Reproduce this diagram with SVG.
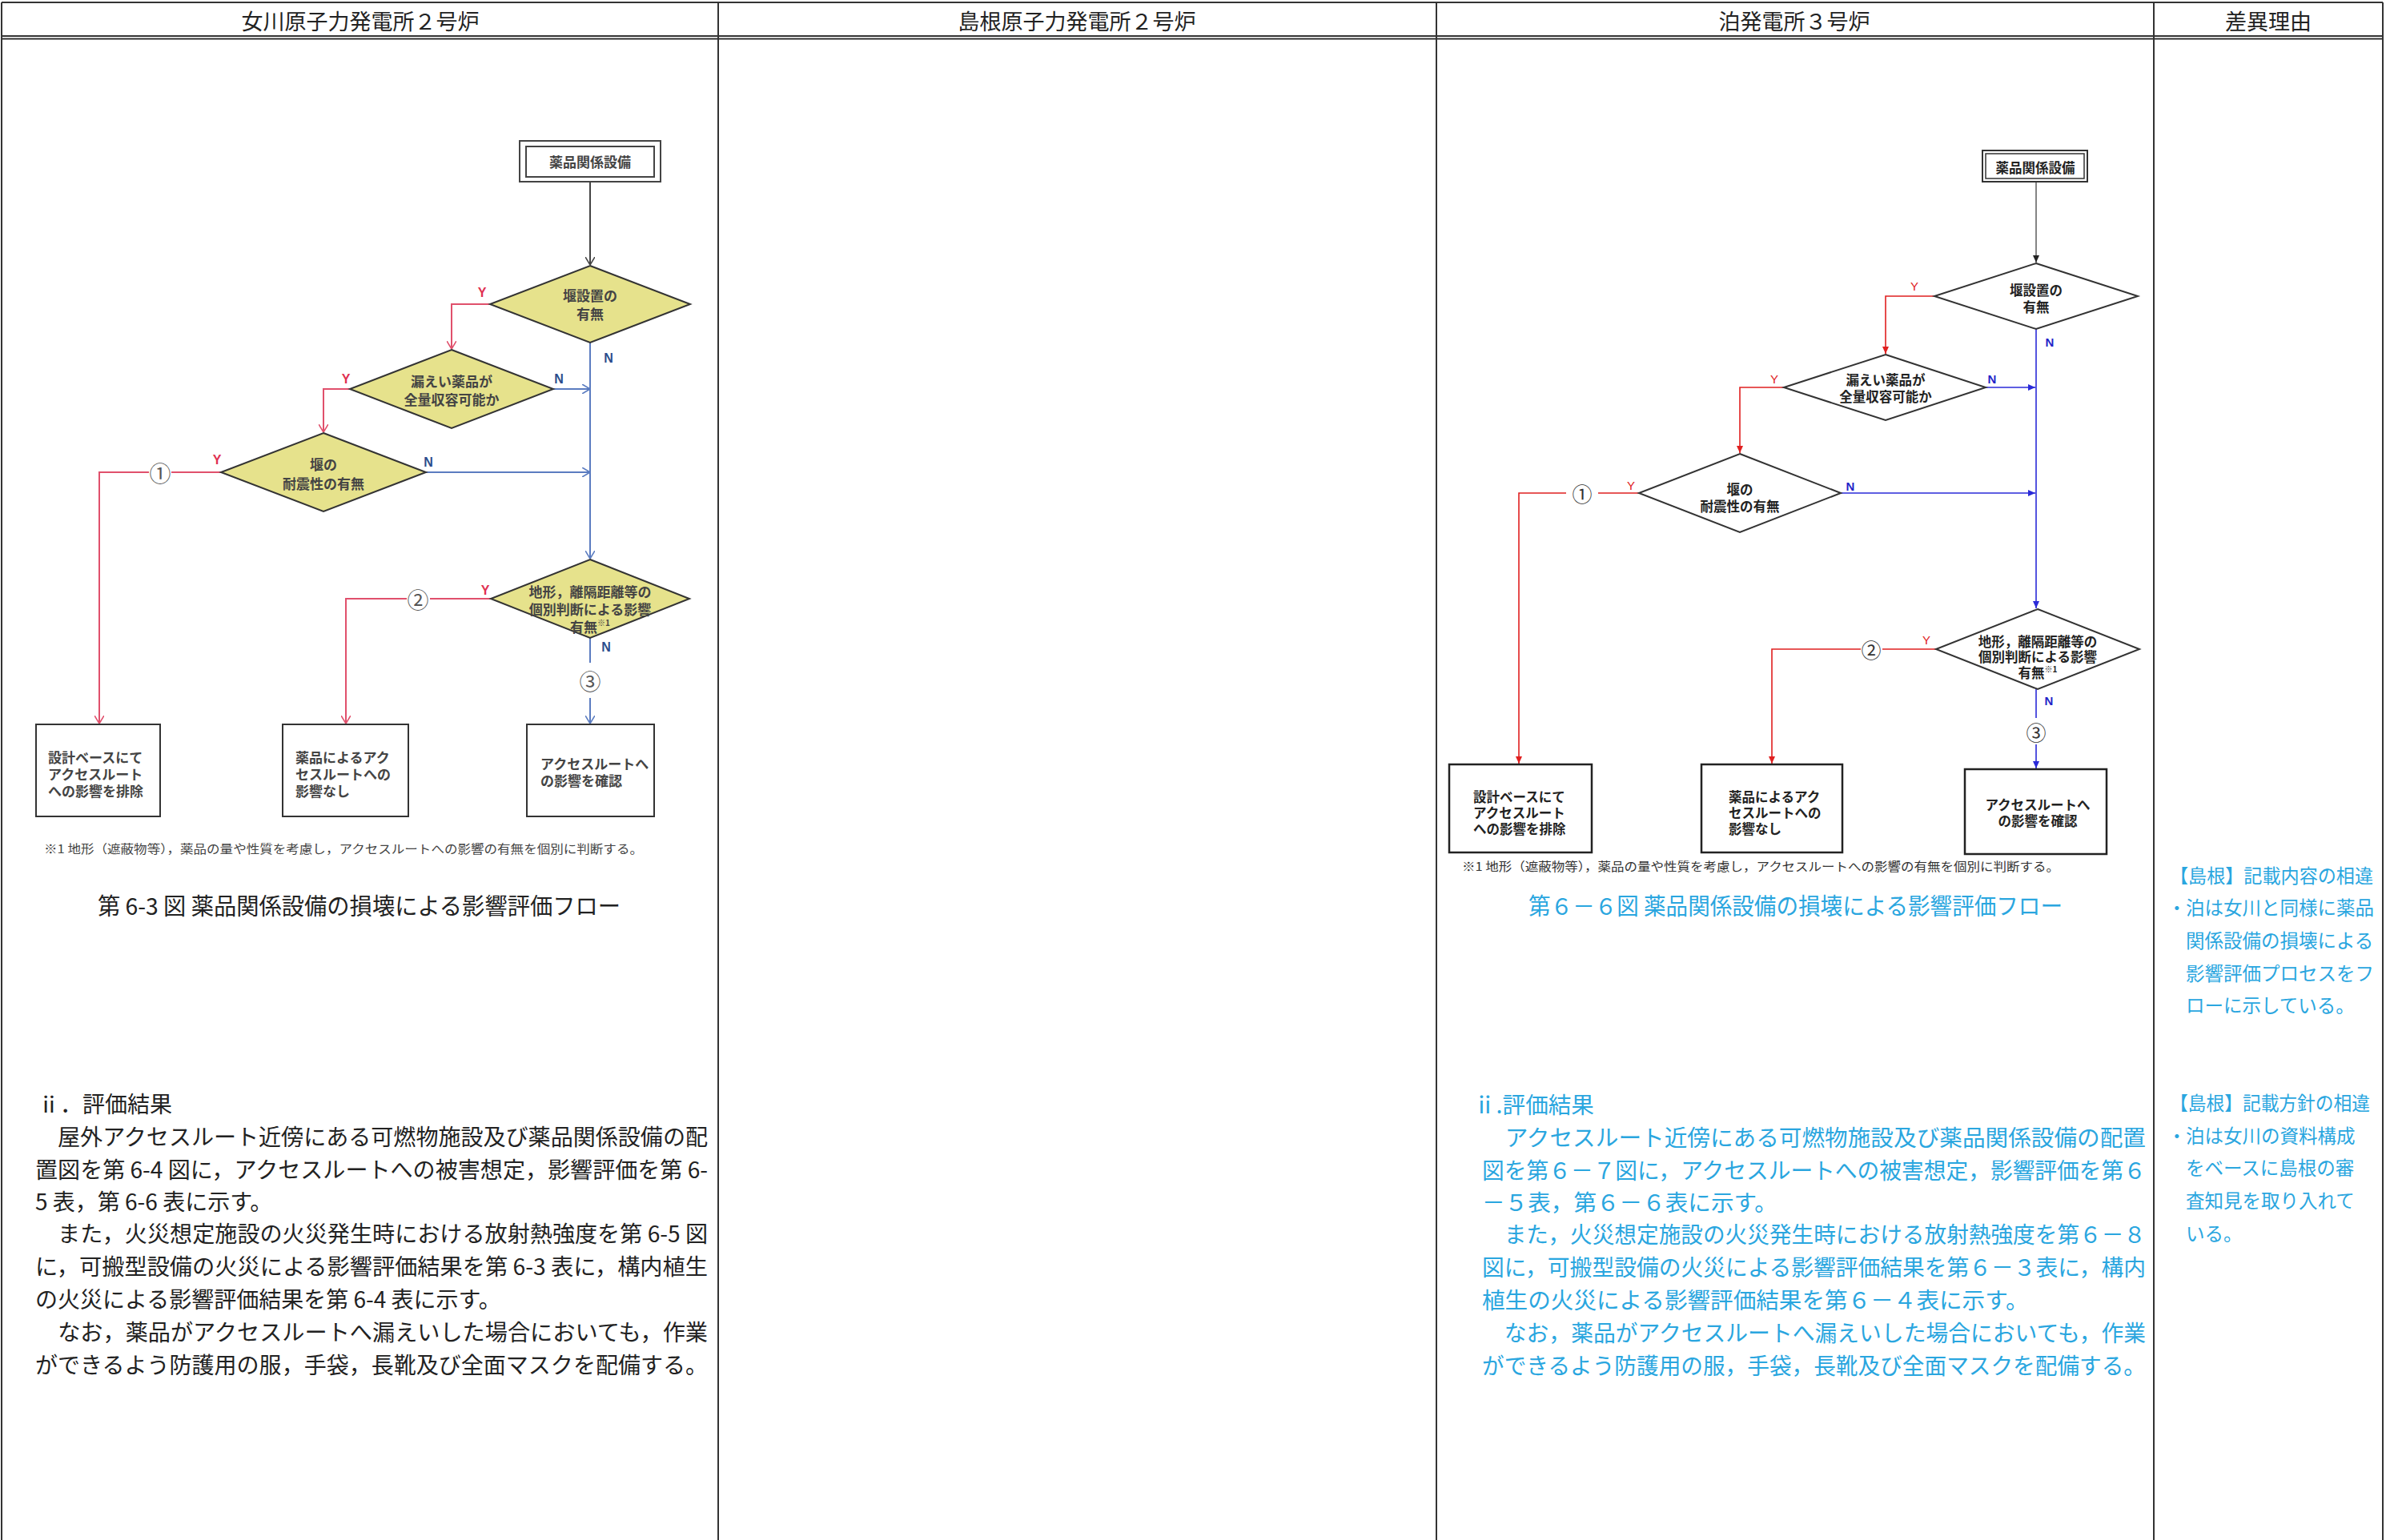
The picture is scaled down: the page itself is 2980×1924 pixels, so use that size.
<svg xmlns="http://www.w3.org/2000/svg" width="2980" height="1924" viewBox="0 0 2980 1924">
<style>
text{font-family:"Noto Sans CJK JP","Noto Sans",sans-serif;}
.hdr{font-size:27px;fill:#222;text-anchor:middle;dominant-baseline:central;}
.body{font-size:28px;fill:#222;dominant-baseline:central;}
.bodyc{font-size:28.6px;fill:#2aa6df;dominant-baseline:central;}
.note{font-size:23.5px;fill:#2aa6df;dominant-baseline:central;}
.cap{font-size:29px;fill:#222;dominant-baseline:central;}
.capc{font-size:29px;fill:#2aa6df;dominant-baseline:central;}
.lt{font-size:17px;fill:#444;font-weight:bold;dominant-baseline:central;}
.ltm{font-size:17px;fill:#444;font-weight:bold;text-anchor:middle;dominant-baseline:central;}
.rt{font-size:16.5px;fill:#222;font-weight:bold;dominant-baseline:central;}
.rtm{font-size:16.5px;fill:#222;font-weight:bold;text-anchor:middle;dominant-baseline:central;}
.fn{font-size:15px;fill:#444;dominant-baseline:central;}
.fnr{font-size:15px;fill:#333;dominant-baseline:central;}
.yl{font-family:"Liberation Sans",sans-serif;font-size:16px;font-weight:bold;fill:#e03050;text-anchor:middle;dominant-baseline:central;}
.nl{font-family:"Liberation Sans",sans-serif;font-size:16px;font-weight:bold;fill:#2c4c8c;text-anchor:middle;dominant-baseline:central;}
.yr{font-family:"Liberation Sans Narrow","Liberation Sans",sans-serif;font-size:15px;fill:#e02020;text-anchor:middle;dominant-baseline:central;}
.nr{font-family:"Liberation Sans Narrow","Liberation Sans",sans-serif;font-size:15px;font-weight:bold;fill:#2323c8;text-anchor:middle;dominant-baseline:central;}
.circ{font-size:27px;fill:#555;text-anchor:middle;dominant-baseline:central;}
.circr{font-size:25px;fill:#333;text-anchor:middle;dominant-baseline:central;}
.dl{fill:#e6e28c;stroke:#333;stroke-width:2;}
.dr{fill:#fff;stroke:#333;stroke-width:2;}
.bx{fill:#fff;stroke:#333;stroke-width:2;}
.bxr{fill:#fff;stroke:#222;stroke-width:2.5;}
.cl-red{fill:none;stroke:#e0506c;stroke-width:2;}
.cl-blue{fill:none;stroke:#5b7cc0;stroke-width:2;}
.cl-gray{fill:none;stroke:#444;stroke-width:2;}
.cr-red{fill:none;stroke:#e02020;stroke-width:1.6;}
.cr-blue{fill:none;stroke:#2a2ad8;stroke-width:1.6;}
.cr-gray{fill:none;stroke:#666;stroke-width:1.6;}
.grid{stroke:#333;stroke-width:2;fill:none;}
</style>
<defs>
<marker id="mLg" viewBox="0 0 10 12" refX="10" refY="6" markerWidth="10" markerHeight="12" orient="auto" markerUnits="userSpaceOnUse"><path d="M0,0 L10,6 L0,12" fill="none" stroke="#444" stroke-width="1.6"/></marker>
<marker id="mLb" viewBox="0 0 10 12" refX="10" refY="6" markerWidth="10" markerHeight="12" orient="auto" markerUnits="userSpaceOnUse"><path d="M0,0 L10,6 L0,12" fill="none" stroke="#5b7cc0" stroke-width="1.6"/></marker>
<marker id="mLr" viewBox="0 0 10 12" refX="10" refY="6" markerWidth="10" markerHeight="12" orient="auto" markerUnits="userSpaceOnUse"><path d="M0,0 L10,6 L0,12" fill="none" stroke="#e0506c" stroke-width="1.6"/></marker>
<marker id="mRk" viewBox="0 0 9 8" refX="9" refY="4" markerWidth="9" markerHeight="8" orient="auto" markerUnits="userSpaceOnUse"><path d="M0,0 L9,4 L0,8 Z" fill="#222"/></marker>
<marker id="mRb" viewBox="0 0 9 8" refX="9" refY="4" markerWidth="9" markerHeight="8" orient="auto" markerUnits="userSpaceOnUse"><path d="M0,0 L9,4 L0,8 Z" fill="#2a2ad8"/></marker>
<marker id="mRr" viewBox="0 0 9 8" refX="9" refY="4" markerWidth="9" markerHeight="8" orient="auto" markerUnits="userSpaceOnUse"><path d="M0,0 L9,4 L0,8 Z" fill="#e02020"/></marker>
</defs>
<rect width="2980" height="1924" fill="#fff"/>

<g id="table">
<line class="grid" x1="2" y1="3" x2="2976" y2="3" stroke-width="3"/>
<line class="grid" x1="2" y1="45" x2="2976" y2="45"/>
<line class="grid" x1="2" y1="48.5" x2="2976" y2="48.5" stroke="#666" stroke-width="1.5"/>
<line class="grid" x1="2" y1="3" x2="2" y2="1924" stroke-width="1.5"/>
<line class="grid" x1="897" y1="3" x2="897" y2="1924" stroke-width="1.5"/>
<line class="grid" x1="1794" y1="3" x2="1794" y2="1924" stroke-width="1.5"/>
<line class="grid" x1="2690" y1="3" x2="2690" y2="1924" stroke-width="1.5"/>
<line class="grid" x1="2976" y1="3" x2="2976" y2="1924" stroke-width="3"/>
<text class="hdr" x="450" y="25">女川原子力発電所２号炉</text>
<text class="hdr" x="1345" y="25">島根原子力発電所２号炉</text>
<text class="hdr" x="2241" y="25">泊発電所３号炉</text>
<text class="hdr" x="2833" y="25">差異理由</text>
</g>

<g id="connectors">
<path class="cl-gray" d="M737,227 V331" marker-end="url(#mLg)"/>
<path class="cl-red" d="M612,380 H564 V436" marker-end="url(#mLr)"/>
<path class="cl-blue" d="M737,428 V698" marker-end="url(#mLb)"/>
<path class="cl-blue" d="M691,486 H737" marker-end="url(#mLb)"/>
<path class="cl-red" d="M437,486 H404 V540" marker-end="url(#mLr)"/>
<path class="cl-blue" d="M532,590 H737" marker-end="url(#mLb)" stroke-width="1.5"/>
<path class="cl-red" d="M276,590 H214 M186,590 H124 V904" marker-end="url(#mLr)"/>
<path class="cl-red" d="M613,748 H537 M508,748 H432 V904" marker-end="url(#mLr)"/>
<path class="cl-blue" d="M737,797 V828 M737,872 V904" marker-end="url(#mLb)"/>

<path class="cr-gray" d="M2543,227 V328" marker-end="url(#mRk)"/>
<path class="cr-red" d="M2416,370 H2355 V442" marker-end="url(#mRr)"/>
<path class="cr-blue" d="M2543,411 V760" marker-end="url(#mRb)"/>
<path class="cr-blue" d="M2480,484 H2542" marker-end="url(#mRb)"/>
<path class="cr-red" d="M2228,484 H2173 V566" marker-end="url(#mRr)"/>
<path class="cr-blue" d="M2299,616 H2542" marker-end="url(#mRb)"/>
<path class="cr-red" d="M2047,616 H1996 M1956,616 H1897 V954" marker-end="url(#mRr)"/>
<path class="cr-red" d="M2418,811 H2351 M2324,811 H2213 V954" marker-end="url(#mRr)"/>
<path class="cr-blue" d="M2543,861 V897 M2543,930 V960" marker-end="url(#mRb)"/>

<text class="yl" x="602" y="365">Y</text>
<text class="nl" x="760" y="447">N</text>
<text class="nl" x="698" y="473">N</text>
<text class="yl" x="432" y="473">Y</text>
<text class="yl" x="271" y="574">Y</text>
<text class="nl" x="535" y="577">N</text>
<text class="yl" x="606" y="737">Y</text>
<text class="nl" x="757" y="808">N</text>
<text class="circ" x="200" y="590">①</text>
<text class="circ" x="522" y="748">②</text>
<text class="circ" x="737" y="850">③</text>

<text class="yr" x="2391" y="357">Y</text>
<text class="nr" x="2560" y="427">N</text>
<text class="nr" x="2488" y="473">N</text>
<text class="yr" x="2216" y="473">Y</text>
<text class="yr" x="2037" y="606">Y</text>
<text class="nr" x="2311" y="607">N</text>
<text class="yr" x="2406" y="799">Y</text>
<text class="nr" x="2559" y="875">N</text>
<text class="circr" x="1976" y="616">①</text>
<text class="circr" x="2337" y="811">②</text>
<text class="circr" x="2543" y="914">③</text>
</g>

<g id="onagawa-start">
<rect x="649" y="176" width="176" height="51" fill="#fff" stroke="#444" stroke-width="2"/>
<rect x="657" y="183" width="160" height="38" fill="none" stroke="#444" stroke-width="2"/>
<text class="ltm" x="737" y="201" font-size="18">薬品関係設備</text>
</g>
<g id="onagawa-d1">
<polygon class="dl" points="737,332 862,380 737,428 612,380"/>
<text class="ltm" x="737" y="368">堰設置の</text>
<text class="ltm" x="737" y="391">有無</text>
</g>
<g id="onagawa-d2">
<polygon class="dl" points="564,437 691,486 564,535 437,486"/>
<text class="ltm" x="564" y="475">漏えい薬品が</text>
<text class="ltm" x="564" y="498">全量収容可能か</text>
</g>
<g id="onagawa-d3">
<polygon class="dl" points="404,541 532,590 404,639 276,590"/>
<text class="ltm" x="404" y="579">堰の</text>
<text class="ltm" x="404" y="603">耐震性の有無</text>
</g>
<g id="onagawa-d4">
<polygon class="dl" points="737,699 861,748 737,797 613,748"/>
<text class="ltm" x="737" y="738">地形，離隔距離等の</text>
<text class="ltm" x="737" y="760">個別判断による影響</text>
<text class="ltm" x="737" y="782">有無<tspan font-size="10" dy="-5">※1</tspan></text>
</g>
<g id="onagawa-b1">
<rect class="bx" x="45" y="905" width="155" height="115"/>
<text class="lt" x="60" y="945">設計ベースにて</text>
<text class="lt" x="60" y="966">アクセスルート</text>
<text class="lt" x="60" y="987">への影響を排除</text>
</g>
<g id="onagawa-b2">
<rect class="bx" x="353" y="905" width="157" height="115"/>
<text class="lt" x="369" y="945">薬品によるアク</text>
<text class="lt" x="369" y="966">セスルートへの</text>
<text class="lt" x="369" y="987">影響なし</text>
</g>
<g id="onagawa-b3">
<rect class="bx" x="658" y="905" width="159" height="115"/>
<text class="lt" x="675" y="953">アクセスルートへ</text>
<text class="lt" x="675" y="974">の影響を確認</text>
</g>
<text class="fn" x="55" y="1059" textLength="748" lengthAdjust="spacingAndGlyphs">※1 地形（遮蔽物等），薬品の量や性質を考慮し，アクセスルートへの影響の有無を個別に判断する。</text>
<text class="cap" x="122" y="1130" textLength="653" lengthAdjust="spacingAndGlyphs">第 6-3 図 薬品関係設備の損壊による影響評価フロー</text>

<g id="onagawa-text">
<text class="body" x="47" y="1378">ⅱ．評価結果</text>
<text class="body" x="44" y="1419" textLength="840" lengthAdjust="spacingAndGlyphs">　屋外アクセスルート近傍にある可燃物施設及び薬品関係設備の配</text>
<text class="body" x="44" y="1460" textLength="840" lengthAdjust="spacingAndGlyphs">置図を第 6-4 図に，アクセスルートへの被害想定，影響評価を第 6-</text>
<text class="body" x="44" y="1500">5 表，第 6-6 表に示す。</text>
<text class="body" x="44" y="1540" textLength="840" lengthAdjust="spacingAndGlyphs">　また，火災想定施設の火災発生時における放射熱強度を第 6-5 図</text>
<text class="body" x="44" y="1581" textLength="840" lengthAdjust="spacingAndGlyphs">に，可搬型設備の火災による影響評価結果を第 6-3 表に，構内植生</text>
<text class="body" x="44" y="1622">の火災による影響評価結果を第 6-4 表に示す。</text>
<text class="body" x="44" y="1663" textLength="840" lengthAdjust="spacingAndGlyphs">　なお，薬品がアクセスルートへ漏えいした場合においても，作業</text>
<text class="body" x="44" y="1704" textLength="840" lengthAdjust="spacingAndGlyphs">ができるよう防護用の服，手袋，長靴及び全面マスクを配備する。</text>
</g>

<g id="tomari-start">
<rect x="2476" y="188" width="131" height="39" fill="#fff" stroke="#333" stroke-width="2"/>
<rect x="2480" y="192" width="123" height="31" fill="none" stroke="#333" stroke-width="1.5"/>
<text class="rtm" x="2542" y="209">薬品関係設備</text>
</g>
<g id="tomari-d1">
<polygon class="dr" points="2543,329 2670,370 2543,411 2416,370"/>
<text class="rtm" x="2543" y="362">堰設置の</text>
<text class="rtm" x="2543" y="383">有無</text>
</g>
<g id="tomari-d2">
<polygon class="dr" points="2355,443 2480,484 2355,525 2228,484"/>
<text class="rtm" x="2355" y="474">漏えい薬品が</text>
<text class="rtm" x="2355" y="495">全量収容可能か</text>
</g>
<g id="tomari-d3">
<polygon class="dr" points="2173,567 2299,616 2173,665 2047,616"/>
<text class="rtm" x="2173" y="611">堰の</text>
<text class="rtm" x="2173" y="632">耐震性の有無</text>
</g>
<g id="tomari-d4">
<polygon class="dr" points="2545,761 2672,811 2545,861 2418,811"/>
<text class="rtm" x="2545" y="801">地形，離隔距離等の</text>
<text class="rtm" x="2545" y="820">個別判断による影響</text>
<text class="rtm" x="2545" y="840">有無<tspan font-size="10" dy="-5">※1</tspan></text>
</g>
<g id="tomari-b1">
<rect class="bxr" x="1810" y="955" width="178" height="110"/>
<text class="rt" x="1840" y="995">設計ベースにて</text>
<text class="rt" x="1840" y="1015">アクセスルート</text>
<text class="rt" x="1840" y="1035">への影響を排除</text>
</g>
<g id="tomari-b2">
<rect class="bxr" x="2125" y="955" width="176" height="110"/>
<text class="rt" x="2159" y="995">薬品によるアク</text>
<text class="rt" x="2159" y="1015">セスルートへの</text>
<text class="rt" x="2159" y="1035">影響なし</text>
</g>
<g id="tomari-b3">
<rect class="bxr" x="2454" y="961" width="177" height="106"/>
<text class="rtm" x="2545" y="1005">アクセスルートへ</text>
<text class="rtm" x="2545" y="1025">の影響を確認</text>
</g>
<text class="fnr" x="1826" y="1081" textLength="746" lengthAdjust="spacingAndGlyphs">※1 地形（遮蔽物等），薬品の量や性質を考慮し，アクセスルートへの影響の有無を個別に判断する。</text>
<text class="capc" x="1909" y="1130" textLength="667" lengthAdjust="spacingAndGlyphs">第６－６図 薬品関係設備の損壊による影響評価フロー</text>

<g id="tomari-text">
<text class="bodyc" x="1840" y="1378">ⅱ.評価結果</text>
<text class="bodyc" x="1851" y="1419" textLength="829" lengthAdjust="spacingAndGlyphs">　アクセスルート近傍にある可燃物施設及び薬品関係設備の配置</text>
<text class="bodyc" x="1851" y="1460" textLength="829" lengthAdjust="spacingAndGlyphs">図を第６－７図に，アクセスルートへの被害想定，影響評価を第６</text>
<text class="bodyc" x="1851" y="1500">－５表，第６－６表に示す。</text>
<text class="bodyc" x="1851" y="1540" textLength="829" lengthAdjust="spacingAndGlyphs">　また，火災想定施設の火災発生時における放射熱強度を第６－８</text>
<text class="bodyc" x="1851" y="1581" textLength="829" lengthAdjust="spacingAndGlyphs">図に，可搬型設備の火災による影響評価結果を第６－３表に，構内</text>
<text class="bodyc" x="1851" y="1622">植生の火災による影響評価結果を第６－４表に示す。</text>
<text class="bodyc" x="1851" y="1663" textLength="829" lengthAdjust="spacingAndGlyphs">　なお，薬品がアクセスルートへ漏えいした場合においても，作業</text>
<text class="bodyc" x="1851" y="1704" textLength="829" lengthAdjust="spacingAndGlyphs">ができるよう防護用の服，手袋，長靴及び全面マスクを配備する。</text>
</g>

<g id="reason-text">
<text class="note" x="2710" y="1093" textLength="254" lengthAdjust="spacingAndGlyphs">【島根】記載内容の相違</text>
<text class="note" y="1133"><tspan x="2707">・</tspan><tspan x="2730">泊は女川と同様に薬品</tspan></text>
<text class="note" x="2730" y="1174">関係設備の損壊による</text>
<text class="note" x="2730" y="1215">影響評価プロセスをフ</text>
<text class="note" x="2730" y="1255">ローに示している。</text>
<text class="note" x="2710" y="1377" textLength="250" lengthAdjust="spacingAndGlyphs">【島根】記載方針の相違</text>
<text class="note" y="1418"><tspan x="2707">・</tspan><tspan x="2730">泊は女川の資料構成</tspan></text>
<text class="note" x="2730" y="1458">をベースに島根の審</text>
<text class="note" x="2730" y="1499">査知見を取り入れて</text>
<text class="note" x="2730" y="1540">いる。</text>
</g>
</svg>
